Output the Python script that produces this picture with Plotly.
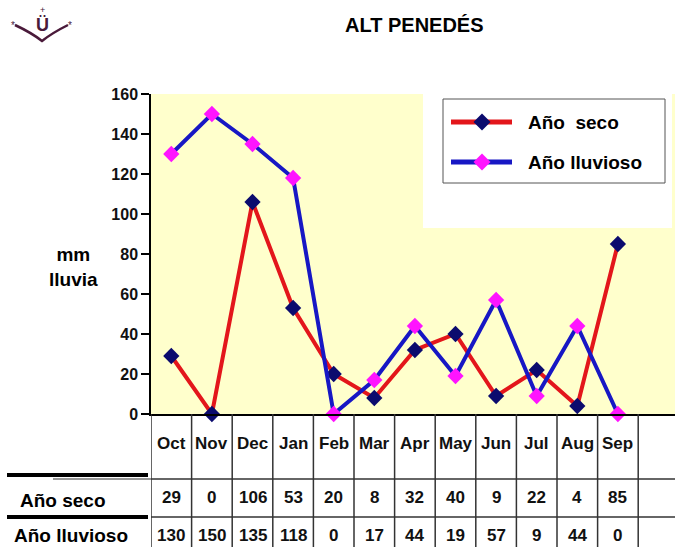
import plotly.graph_objects as go

# ---- data -------------------------------------------------------------
months = ["Oct", "Nov", "Dec", "Jan", "Feb", "Mar", "Apr", "May", "Jun", "Jul", "Aug", "Sep"]
ano_seco = [29, 0, 106, 53, 20, 8, 32, 40, 9, 22, 4, 85]
ano_lluvioso = [130, 150, 135, 118, 0, 17, 44, 19, 57, 9, 44, 0]
series_names = ["Año seco", "Año lluvioso"]
legend_labels = ["Año  seco", "Año lluvioso"]
y_ticks = [0, 20, 40, 60, 80, 100, 120, 140, 160]
title_text = "ALT PENEDÉS"
y_title = "mm<br>lluvia"

# ---- styling ------------------------------------------------------------
W, H = 675, 547
ML, MR, MT, MB = 151, 0, 94, 133
PW, PH = W - ML - MR, H - MT - MB
COL_W = 40.6                      # width of one month column in pixels

RED = "#e3161b"
BLUE = "#1717c4"
NAVY = "#0b0b6e"
MAGENTA = "#ff14ff"
BG_YELLOW = "#ffffcc"
GRID = "#333333"

FONT = "Liberation Sans, Arial, sans-serif"


def px(x):
    """pixel column -> paper x"""
    return (x - ML) / PW


def py(y):
    """pixel row -> paper y"""
    return (H - MB - y) / PH


def label(x, y, text, font, xref="paper", xanchor="center", **kw):
    return dict(x=x, y=y, xref=xref, yref="paper", text=text, showarrow=False,
                xanchor=xanchor, yanchor="middle", font=font, **kw)


xs = list(range(len(months)))
x_range = [-0.5, -0.5 + PW / COL_W]

fig = go.Figure()
fig.add_trace(go.Scatter(
    x=xs, y=ano_seco, name=series_names[0], mode="lines+markers",
    line=dict(color=RED, width=4),
    marker=dict(symbol="diamond", size=12.5, color=NAVY),
    cliponaxis=False, showlegend=False,
))
fig.add_trace(go.Scatter(
    x=xs, y=ano_lluvioso, name=series_names[1], mode="lines+markers",
    line=dict(color=BLUE, width=4),
    marker=dict(symbol="diamond", size=12.5, color=MAGENTA),
    cliponaxis=False, showlegend=False,
))

shapes = []
annotations = []

# white panel behind the legend
shapes.append(dict(type="rect", xref="paper", yref="paper",
                   x0=px(423), x1=px(672), y0=py(228), y1=1.0,
                   fillcolor="white", line=dict(width=0), layer="below"))

# ---- data table under the axis -------------------------------------------
table_bottom = py(H + 2)
for k in range(-1, len(months) + 1):
    shapes.append(dict(type="line", xref="x", yref="paper",
                       x0=k + 0.5, x1=k + 0.5, y0=0, y1=table_bottom,
                       line=dict(color=GRID, width=1.5)))
for yy in (479, 517):
    shapes.append(dict(type="line", xref="paper", yref="paper",
                       x0=px(ML), x1=1.0, y0=py(yy), y1=py(yy),
                       line=dict(color=GRID, width=1.5)))
shapes.append(dict(type="line", xref="paper", yref="paper",
                   x0=px(53), x1=px(ML), y0=py(479), y1=py(479),
                   line=dict(color=GRID, width=1.2)))
for yy in (475, 517):
    shapes.append(dict(type="line", xref="paper", yref="paper",
                       x0=px(7), x1=px(148), y0=py(yy), y1=py(yy),
                       line=dict(color="black", width=4)))

cell_font = dict(family=FONT, size=17, color="#111111", weight="bold")
for i, m in enumerate(months):
    annotations.append(label(i, py(443), m, cell_font, xref="x"))
    annotations.append(label(i, py(497), str(ano_seco[i]), cell_font, xref="x"))
    annotations.append(label(i, py(535), str(ano_lluvioso[i]), cell_font, xref="x"))

row_font = dict(family=FONT, size=19, color="black", weight="bold")
annotations.append(label(px(18), py(500), series_names[0], row_font, xanchor="left"))
annotations.append(label(px(12), py(535), series_names[1], row_font, xanchor="left"))

# ---- legend box ------------------------------------------------------------
shapes.append(dict(type="rect", xref="paper", yref="paper",
                   x0=px(443), x1=px(665), y0=py(183), y1=py(99),
                   line=dict(color="#555555", width=1), fillcolor="white"))


def diamond_path(cx, cy, r):
    return (f"M {px(cx - r)},{py(cy)} L {px(cx)},{py(cy - r)} "
            f"L {px(cx + r)},{py(cy)} L {px(cx)},{py(cy + r)} Z")


legend_font = dict(family=FONT, size=19, color="black", weight="bold")
for row_y, lc, mc, text in ((122, RED, NAVY, legend_labels[0]),
                            (162, BLUE, MAGENTA, legend_labels[1])):
    shapes.append(dict(type="line", xref="paper", yref="paper",
                       x0=px(451), x1=px(512), y0=py(row_y), y1=py(row_y),
                       line=dict(color=lc, width=5)))
    shapes.append(dict(type="path", xref="paper", yref="paper",
                       path=diamond_path(482, row_y, 8.5),
                       fillcolor=mc, line=dict(width=0)))
    annotations.append(label(px(526), py(row_y), text, legend_font, xanchor="left"))

# ---- titles ------------------------------------------------------------------
annotations.append(label(px(414), py(25), title_text,
                         dict(family=FONT, size=20, color="black", weight="bold")))
annotations.append(label(px(73), py(267), y_title,
                         dict(family=FONT, size=19, color="black", weight="bold"),
                         align="center"))

# ---- small emblem top-left -----------------------------------------------------
EMB = "#4a1a3a"
shapes.append(dict(type="path", xref="paper", yref="paper",
                   path=(f"M {px(15)},{py(25)} Q {px(32)},{py(33)} {px(42)},{py(41)} "
                         f"Q {px(52)},{py(33)} {px(68)},{py(25)}"),
                   line=dict(color=EMB, width=2.5)))
annotations.append(label(px(42), py(25), "Ü",
                         dict(family=FONT, size=18, color=EMB, weight="bold")))
for sx in (13, 70):
    annotations.append(label(px(sx), py(25), "*", dict(family=FONT, size=10, color=EMB)))
annotations.append(label(px(42), py(10), "+", dict(family=FONT, size=9, color=EMB)))

fig.update_layout(
    width=W, height=H,
    margin=dict(l=ML, r=MR, t=MT, b=MB, pad=0),
    paper_bgcolor="white",
    plot_bgcolor=BG_YELLOW,
    showlegend=False,
    shapes=shapes,
    annotations=annotations,
    xaxis=dict(range=x_range, showgrid=False, zeroline=False, showticklabels=False,
               ticks="", showline=True, linecolor="black", linewidth=1.5),
    yaxis=dict(range=[0, 160], tickvals=y_ticks, showgrid=False, zeroline=False,
               ticks="outside", ticklen=8, tickwidth=1.5, tickcolor="black",
               showline=True, linecolor="black", linewidth=1.5,
               tickfont=dict(family=FONT, size=16, color="#111111", weight="bold")),
)

fig.write_html("out.html")
